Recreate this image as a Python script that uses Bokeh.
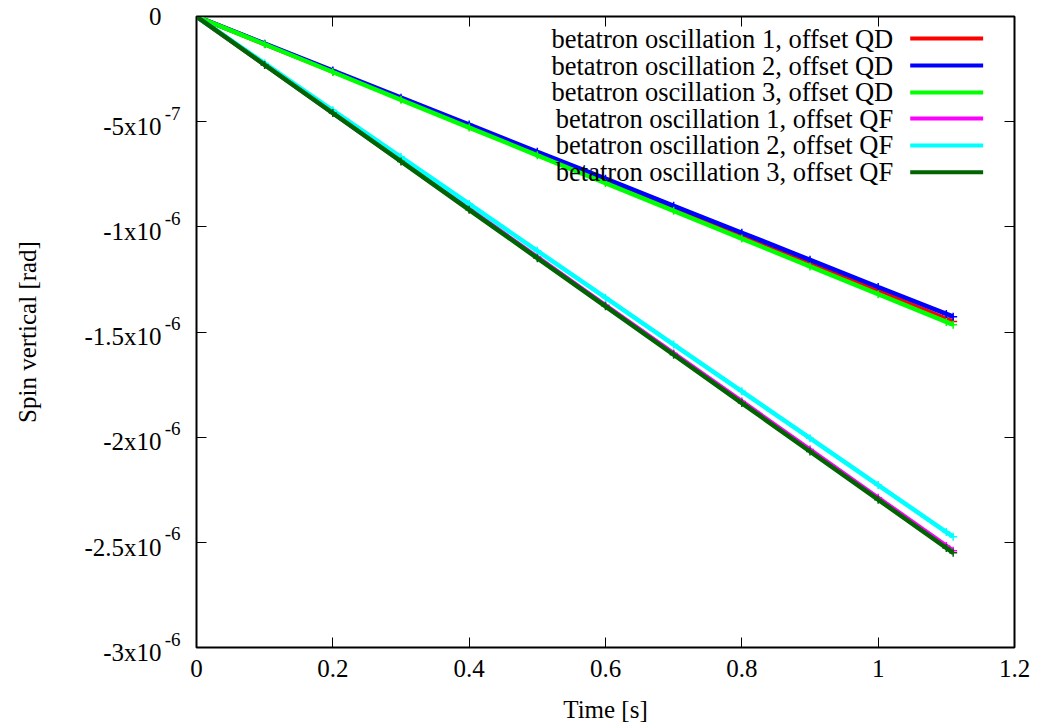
from bokeh.plotting import figure
from bokeh.models import LinearAxis, FixedTicker, Range1d, Label
from bokeh.embed import file_html
from bokeh.resources import INLINE

# ---- data (spin values in units of 1e-6 rad) ----
time_s = [0.0, 0.1, 0.2, 0.3, 0.4, 0.5, 0.6, 0.7, 0.8, 0.9, 1.0, 1.1, 1.11]
qd_osc1 = [0.0, -0.131, -0.261, -0.392, -0.522, -0.653, -0.784, -0.914, -1.045, -1.175, -1.306, -1.437, -1.450]
qd_osc2 = [0.0, -0.129, -0.257, -0.386, -0.514, -0.643, -0.771, -0.900, -1.028, -1.157, -1.286, -1.414, -1.427]
qd_osc3 = [0.0, -0.132, -0.264, -0.396, -0.528, -0.660, -0.792, -0.924, -1.056, -1.188, -1.320, -1.452, -1.465]
qf_osc1 = [0.0, -0.229, -0.458, -0.686, -0.915, -1.144, -1.373, -1.602, -1.830, -2.059, -2.288, -2.517, -2.540]
qf_osc2 = [0.0, -0.223, -0.446, -0.668, -0.891, -1.114, -1.337, -1.560, -1.782, -2.005, -2.228, -2.451, -2.473]
qf_osc3 = [0.0, -0.230, -0.459, -0.689, -0.919, -1.149, -1.378, -1.608, -1.838, -2.068, -2.297, -2.527, -2.550]

series_labels = [
    "betatron oscillation 1, offset QD",
    "betatron oscillation 2, offset QD",
    "betatron oscillation 3, offset QD",
    "betatron oscillation 1, offset QF",
    "betatron oscillation 2, offset QF",
    "betatron oscillation 3, offset QF",
]
series_colors = ["#ff0000", "#0000ff", "#00ff00", "#ff00ff", "#00ffff", "#006400"]
series_values = [qd_osc1, qd_osc2, qd_osc3, qf_osc1, qf_osc2, qf_osc3]

x_ticks = [0, 0.2, 0.4, 0.6, 0.8, 1.0, 1.2]
x_tick_labels = ["0", "0.2", "0.4", "0.6", "0.8", "1", "1.2"]
y_ticks = [0, -0.5e-6, -1e-6, -1.5e-6, -2e-6, -2.5e-6, -3e-6]
y_tick_mantissa = ["0", "-5x10", "-1x10", "-1.5x10", "-2x10", "-2.5x10", "-3x10"]
y_tick_exponent = ["", "-7", "-6", "-6", "-6", "-6", "-6"]

FONT = "Liberation Serif"
FS = "25px"

p = figure(width=1039, height=728, output_backend="svg", toolbar_location=None,
           x_range=Range1d(0, 1.2), y_range=Range1d(-3e-6, 0),
           min_border_left=196, min_border_right=25, min_border_top=16, min_border_bottom=81)
p.background_fill_color = "white"
p.border_fill_color = "white"
p.grid.visible = False
p.outline_line_color = "black"
p.outline_line_width = 2

def style_axis(ax):
    ax.major_tick_in = 10
    ax.major_tick_out = 0
    ax.minor_tick_line_color = None
    ax.axis_line_color = None
    ax.major_tick_line_color = "black"
    ax.major_tick_line_width = 1
    ax.major_label_text_font = FONT
    ax.major_label_text_color = "black"
    ax.major_label_text_font_size = FS
    ax.axis_label_text_font = FONT
    ax.axis_label_text_font_size = FS
    ax.axis_label_text_font_style = "normal"
    ax.axis_label_text_color = "black"

# x axis
p.xaxis.ticker = FixedTicker(ticks=x_ticks)
p.xaxis.major_label_overrides = dict(zip(x_ticks, x_tick_labels))
style_axis(p.xaxis[0])
p.xaxis.axis_label = "Time [s]"
p.xaxis.major_label_standoff = 12
p.xaxis.axis_label_standoff = 16

# inner left axis: ticks + raised exponents
yin = p.yaxis[0]
yin.ticker = FixedTicker(ticks=y_ticks)
style_axis(yin)
yin.major_label_overrides = {t: (ex + "\n" if ex else "") for t, ex in zip(y_ticks, y_tick_exponent)}
yin.major_label_text_font_size = "19px"
yin.major_label_text_line_height = 0.8
yin.major_label_standoff = 16

# outer left axis: mantissas + axis title
yout = LinearAxis(ticker=FixedTicker(ticks=y_ticks))
style_axis(yout)
yout.major_tick_in = 0
yout.major_tick_line_color = None
yout.major_label_overrides = {t: ("\n" + m if ex else m) for t, m, ex in
                              zip(y_ticks, y_tick_mantissa, y_tick_exponent)}
yout.major_label_text_line_height = 0.35
yout.major_label_standoff = 0
yout.axis_label = "Spin vertical [rad]"
yout.axis_label_standoff = 40
p.add_layout(yout, "left")

top = LinearAxis(ticker=FixedTicker(ticks=x_ticks))
style_axis(top)
top.major_label_overrides = {t: "" for t in x_ticks}
p.add_layout(top, "above")
right = LinearAxis(ticker=FixedTicker(ticks=y_ticks))
style_axis(right)
right.major_label_overrides = {t: "" for t in y_ticks}
p.add_layout(right, "right")

scale = 1e-6
for vals, col in zip(series_values, series_colors):
    ys = [v * scale for v in vals]
    p.line(time_s, ys, line_color=col, line_width=4.5)
    p.scatter(time_s, ys, marker="cross", size=8, line_color=col, line_width=1.5)

# manual gnuplot-style legend (text right, sample line at right)
leg_rows = [-0.105e-6, -0.233e-6, -0.361e-6, -0.485e-6, -0.613e-6, -0.741e-6]
for lab, col, yy in zip(series_labels, series_colors, leg_rows):
    p.add_layout(Label(x=1.022, y=yy, text=lab, text_align="right", text_baseline="middle",
                       text_font=FONT, text_font_size="26.5px", text_color="black"))
    p.segment(x0=[1.047], y0=[yy], x1=[1.154], y1=[yy], line_color=col, line_width=4)

open("out.html", "w").write(file_html(p, INLINE))
